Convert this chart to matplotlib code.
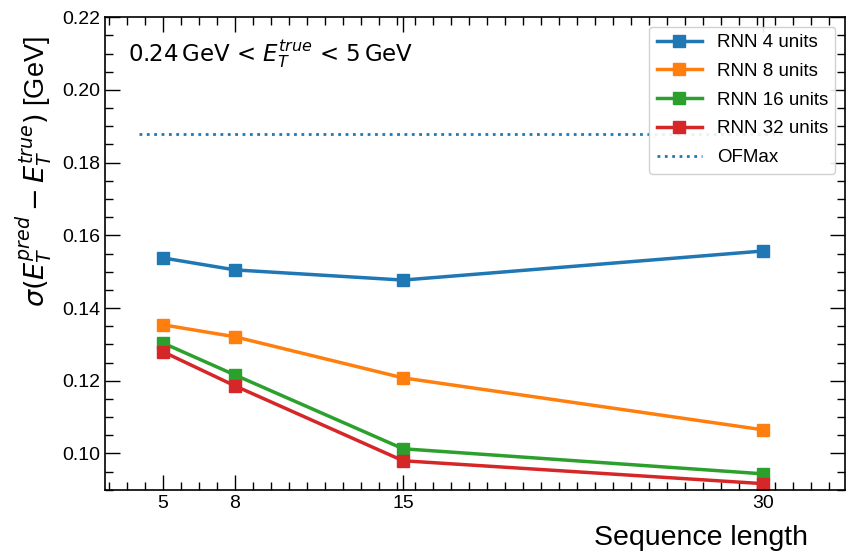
import matplotlib
matplotlib.use("Agg")
import matplotlib.pyplot as plt
from matplotlib.ticker import AutoMinorLocator, FixedLocator

plt.rcParams['font.family'] = ['Liberation Sans', 'DejaVu Sans']
plt.rcParams['mathtext.fontset'] = 'dejavusans'

# データ
seq_len = [5, 8, 15, 30]
rnn4 = [0.1538, 0.1505, 0.1477, 0.1557]
rnn8 = [0.1354, 0.1321, 0.1208, 0.1065]
rnn16 = [0.1304, 0.1216, 0.1013, 0.0944]
rnn32 = [0.1280, 0.1186, 0.0980, 0.0917]
ofmax = 0.1878
ofmax_range = [4, 31]

labels = ["RNN 4 units", "RNN 8 units", "RNN 16 units", "RNN 32 units"]
colors = ["#1f77b4", "#ff7f0e", "#2ca02c", "#d62728"]

fig = plt.figure(figsize=(8.56, 5.56), dpi=100)
ax = fig.add_axes([0.123, 0.119, 0.864, 0.85])

for ys, lab, c in zip([rnn4, rnn8, rnn16, rnn32], labels, colors):
    ax.plot(seq_len, ys, marker="s", markersize=9, linewidth=2.5, color=c, label=lab)

ax.hlines(ofmax, ofmax_range[0], ofmax_range[1], colors="#1f77b4", linestyles=":",
          linewidth=2, label="OFMax")

ax.set_xlim(2.6, 33.4)
ax.set_ylim(0.09, 0.22)
ax.xaxis.set_major_locator(FixedLocator(seq_len))
ax.xaxis.set_minor_locator(AutoMinorLocator())
ax.yaxis.set_minor_locator(AutoMinorLocator(4))
ax.set_yticks([0.10, 0.12, 0.14, 0.16, 0.18, 0.20, 0.22])

ax.tick_params(which="both", direction="in", top=True, right=True, labelsize=14)
ax.tick_params(which="major", length=11, width=1)
ax.tick_params(which="minor", length=6, width=1)
for s in ax.spines.values():
    s.set_linewidth(1.2)

ax.set_xlabel("Sequence length", fontsize=20.5)
ax.xaxis.set_label_coords(0.95, -0.075)
ax.xaxis.label.set_ha("right")
ax.set_ylabel(r"$\sigma(E_T^{pred} - E_T^{true})$ [GeV]", fontsize=19.5)
ax.yaxis.set_label_coords(-0.068, 0.96)
ax.yaxis.label.set_va("bottom")
ax.yaxis.label.set_ha("right")

ax.text(0.031, 0.955, r"0.24$\,$GeV < $E_T^{true}$ < 5$\,$GeV", transform=ax.transAxes,
        fontsize=16.5, va="top", ha="left", family="DejaVu Sans")

ax.legend(loc="upper right", fontsize=13.5, handlelength=2.4, labelspacing=0.62,
          borderaxespad=0.5, framealpha=0.9)

fig.savefig("out.png", dpi=100)
